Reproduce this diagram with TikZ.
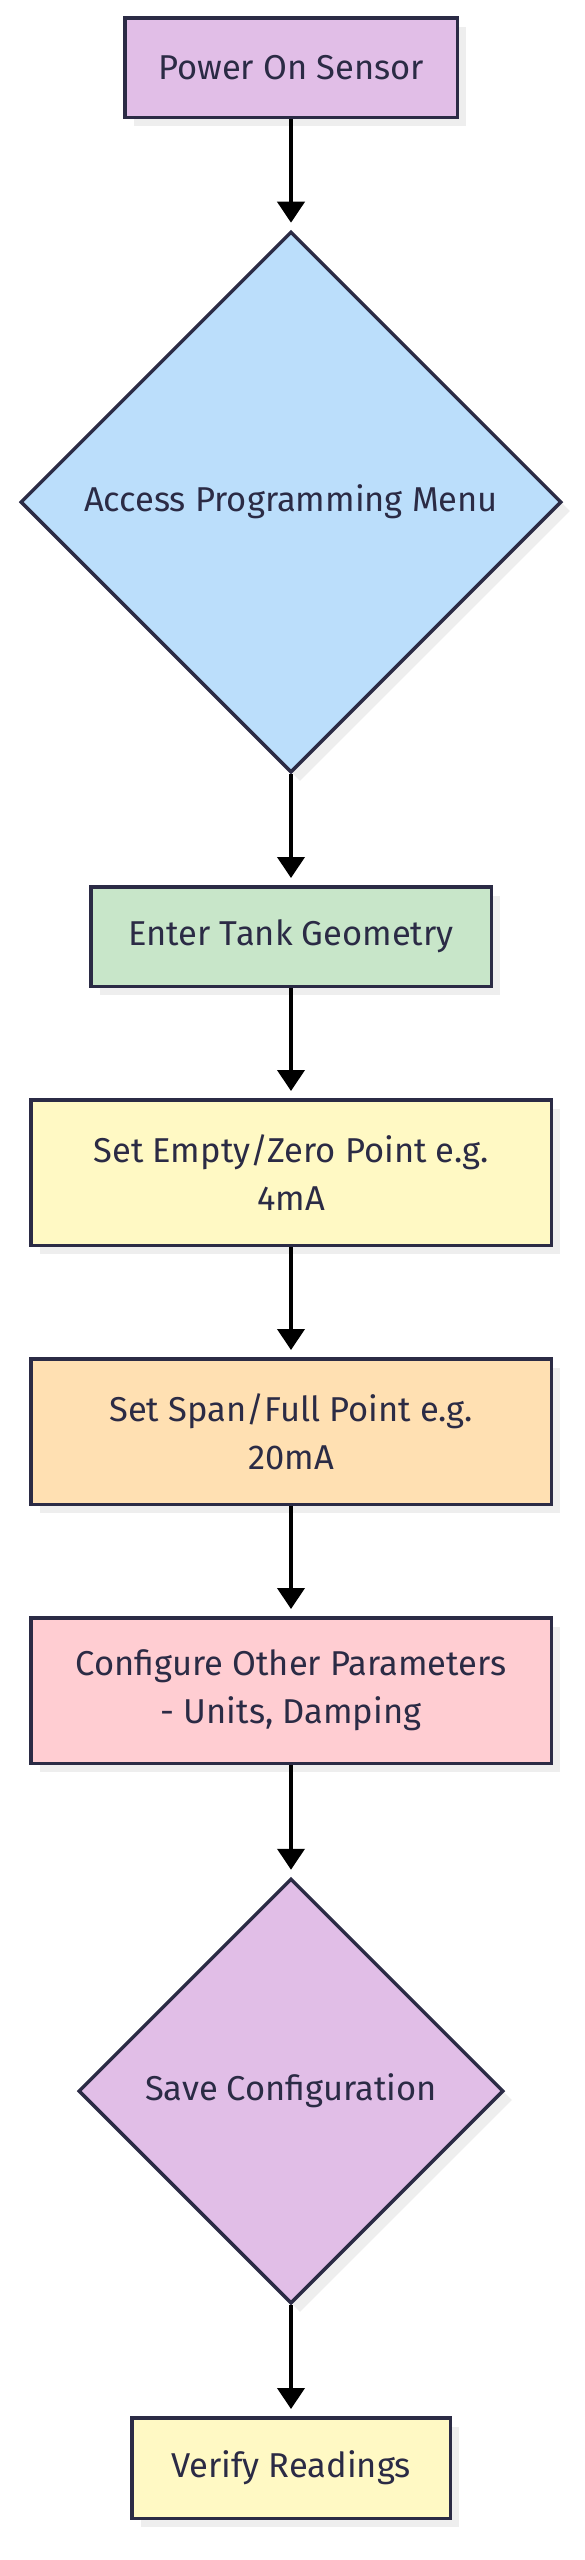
\documentclass[tikz,border=0pt]{standalone}
\usepackage{fontspec}
\setmainfont{Fira Sans}
\usetikzlibrary{shapes.geometric,arrows.meta,shadows}
\definecolor{ink}{HTML}{2B2B45}
\definecolor{shadowgray}{HTML}{EEEEEE}
\definecolor{lavender}{HTML}{E1BEE7}
\definecolor{skyblue}{HTML}{BBDEFB}
\definecolor{mint}{HTML}{C8E6C9}
\definecolor{lemon}{HTML}{FFF9C4}
\definecolor{peach}{HTML}{FFE0B2}
\definecolor{rose}{HTML}{FFCDD2}
\begin{document}
\begin{tikzpicture}[x=1pt,y=-1pt,
  base/.style={draw=ink, line width=3.5pt, text=ink, font=\fontsize{34.5}{48}\selectfont, align=center,
    drop shadow={shadow xshift=9pt, shadow yshift=-9pt, fill=shadowgray, opacity=1}},
  box/.style={base, rectangle, inner sep=0pt},
  dia/.style={base, diamond, inner sep=0pt, aspect=1},
  conn/.style={draw=black, line width=4pt, -{Triangle[length=21pt,width=27pt]}, shorten >=7pt}]
\useasboundingbox (0,0) rectangle (585,2560);

\node[box, fill=lavender, minimum width=332.5pt, minimum height=99.5pt] (power) at (291,67.5) {Power On Sensor};
\node[dia, fill=skyblue, minimum width=541pt, minimum height=541pt] (menu) at (291,502) {Access Programming Menu};
\node[box, fill=mint, minimum width=400.5pt, minimum height=99.5pt] (tank) at (291,936.5) {Enter Tank Geometry};
\node[box, fill=lemon, minimum width=520.5pt, minimum height=145.5pt] (zero) at (291,1172.5) {Set Empty/Zero Point e.g.\\4mA};
\node[box, fill=peach, minimum width=520.5pt, minimum height=145.5pt] (span) at (291,1431.5) {Set Span/Full Point e.g.\\20mA};
\node[box, fill=rose, minimum width=520.5pt, minimum height=145.5pt] (other) at (291,1690.5) {Configure Other Parameters\\- Units, Damping};
\node[dia, fill=lavender, minimum width=425pt, minimum height=425pt] (save) at (291,2091) {Save Configuration};
\node[box, fill=lemon, minimum width=318.5pt, minimum height=100.5pt] (verify) at (291,2468) {Verify Readings};

\draw[conn] (power) -- (menu);
\draw[conn] (menu) -- (tank);
\draw[conn] (tank) -- (zero);
\draw[conn] (zero) -- (span);
\draw[conn] (span) -- (other);
\draw[conn] (other) -- (save);
\draw[conn] (save) -- (verify);
\end{tikzpicture}
\end{document}
